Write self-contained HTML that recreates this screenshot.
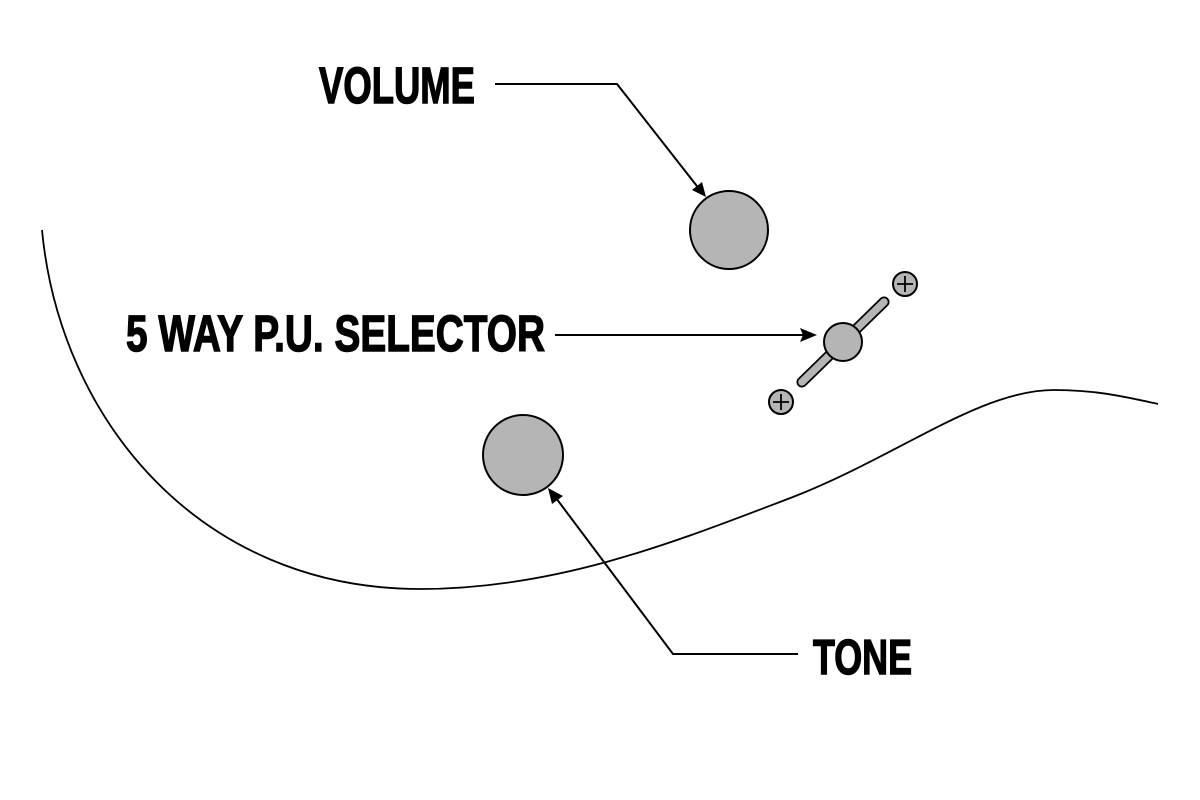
<!DOCTYPE html>
<html><head><meta charset="utf-8"><style>
html,body{margin:0;padding:0;background:#fff;}
svg{display:block}
text{font-family:"Liberation Sans Narrow","Liberation Sans",sans-serif;font-weight:bold;fill:#000;stroke:#000;stroke-width:1.4}
</style></head><body>
<svg width="1200" height="800" viewBox="0 0 1200 800" xmlns="http://www.w3.org/2000/svg">
<path d="M42,230 C60,420 200,589 420,589 C560,589 680,540 793,497 C900,455 980,390 1054,390 C1100,390 1130,398 1158,404" fill="none" stroke="#000" stroke-width="1.8"/>

<text x="319" y="103" font-size="51" textLength="156" lengthAdjust="spacingAndGlyphs">VOLUME</text>
<polyline points="495,84 617,84 700,190" fill="none" stroke="#000" stroke-width="2"/>
<polygon points="706,197 692,190 702,182" fill="#000"/>
<circle cx="729" cy="230" r="39" fill="#b5b5b6" stroke="#000" stroke-width="2"/>

<text x="126" y="351" font-size="51" textLength="419" lengthAdjust="spacingAndGlyphs">5 WAY P.U. SELECTOR</text>
<line x1="555" y1="335" x2="805" y2="335" stroke="#000" stroke-width="2"/>
<polygon points="817,335 800,328 803,335 800,342" fill="#000"/>
<line x1="802" y1="382" x2="884" y2="302" stroke="#000" stroke-width="11" stroke-linecap="round"/>
<line x1="802" y1="382" x2="884" y2="302" stroke="#b5b5b6" stroke-width="7.5" stroke-linecap="round"/>
<circle cx="843" cy="342" r="19" fill="#b5b5b6" stroke="#000" stroke-width="2"/>
<circle cx="905" cy="284" r="12" fill="#b5b5b6" stroke="#000" stroke-width="2"/>
<path d="M897,284 H913 M905,276 V292" stroke="#000" stroke-width="1.8"/>
<circle cx="781" cy="402" r="12" fill="#b5b5b6" stroke="#000" stroke-width="2"/>
<path d="M773,402 H789 M781,394 V410" stroke="#000" stroke-width="1.8"/>

<circle cx="523" cy="455" r="40" fill="#b5b5b6" stroke="#000" stroke-width="2"/>
<polyline points="798,654 673,654 553,494" fill="none" stroke="#000" stroke-width="2"/>
<polygon points="548,488 563,496 552,504" fill="#000"/>
<text x="813" y="674" font-size="49" textLength="99" lengthAdjust="spacingAndGlyphs">TONE</text>
</svg>
</body></html>
